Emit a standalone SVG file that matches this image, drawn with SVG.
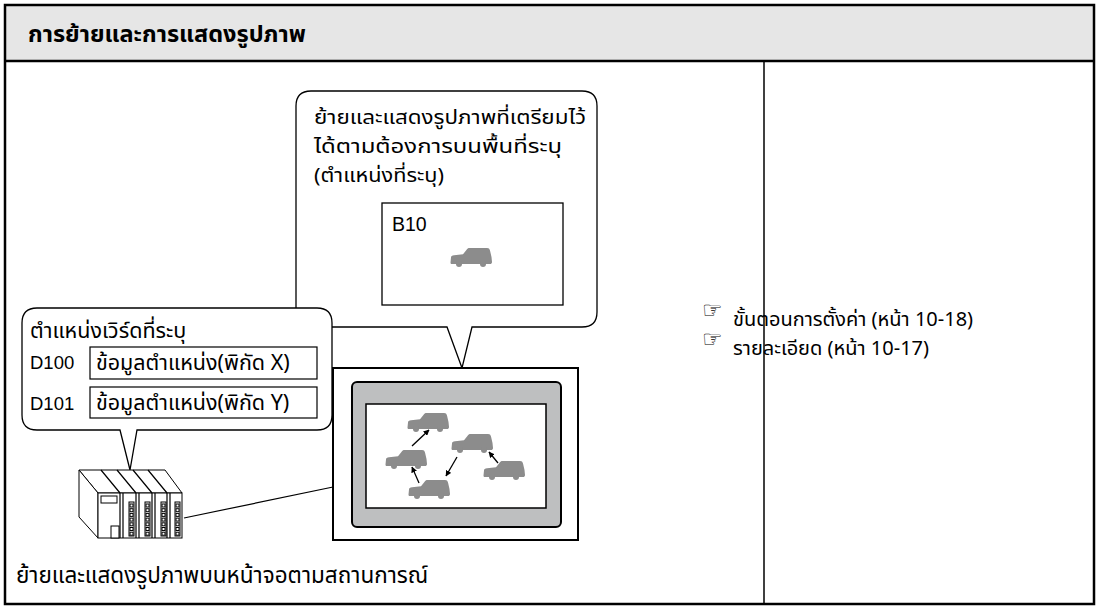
<svg xmlns="http://www.w3.org/2000/svg" width="1098" height="606" viewBox="0 0 1098 606">
  <style>
    .frame { fill: none; stroke: #000; stroke-width: 2.5; }
    .line { fill: none; stroke: #000; stroke-width: 1.2; }
    .bubble { fill: #fff; stroke: #000; stroke-width: 1.3; }
    .thai { font-family: "Noto Sans Thai", "Noto Sans", "Liberation Sans", sans-serif; fill: #000; }
    .latin { font-family: "Liberation Sans", Arial, sans-serif; fill: #000; }
    .hand { font-family: "DejaVu Sans", sans-serif; font-size: 23px; fill: #000; }
    .car { fill: #8c8c8c; }
    .arrow { stroke: #000; stroke-width: 1.3; fill: none; marker-end: url(#head); }
    .plc { fill: #fff; stroke: #000; stroke-width: 1; }
  </style>
  <defs>
    <marker id="head" viewBox="0 0 10 10" refX="9" refY="5" markerWidth="6" markerHeight="6" orient="auto" markerUnits="userSpaceOnUse">
      <path d="M0,0 L10,5 L0,10 Z" fill="#000"/>
    </marker>
    <symbol id="car" viewBox="0 0 42 19">
      <path class="car" d="M1,9.5 C1,8 2,7.4 4,7.2 L13,6.2 L17,1.3 C17.6,0.5 18.4,0 19.6,0 L37,0 C38.8,0 39.6,0.8 40,2.5 L41.5,9 L42,14 C42,15.5 41,16 40,16 L2,16 C1,16 0.5,15.5 0.5,14.5 Z"/>
      <circle class="car" cx="9" cy="16" r="3"/>
      <circle class="car" cx="33" cy="16" r="3"/>
    </symbol>
    <g id="leds">
      <rect class="plc" x="0" y="0" width="5" height="34"/>
      <rect class="plc" x="1" y="2" width="3" height="3"/>
      <rect class="plc" x="1" y="6.7" width="3" height="3"/>
      <rect class="plc" x="1" y="11.4" width="3" height="3"/>
      <rect class="plc" x="1" y="16.1" width="3" height="3"/>
      <rect class="plc" x="1" y="20.8" width="3" height="3"/>
      <rect class="plc" x="1" y="25.5" width="3" height="3"/>
      <rect class="plc" x="1" y="30.2" width="3" height="3"/>
    </g>
  </defs>

  <rect width="1098" height="606" fill="#fff"/>

  <!-- table: header band, outer frame, column divider -->
  <g id="table">
    <rect x="5" y="5" width="1089" height="56" fill="#e6e6e6"/>
    <rect class="frame" x="5" y="5" width="1089" height="599"/>
    <line class="frame" x1="5" y1="61" x2="1094" y2="61"/>
    <line x1="764" y1="61" x2="764" y2="604" stroke="#000" stroke-width="1.5"/>
    <text class="thai" x="28" y="42" font-size="23.5" font-weight="bold">การย้ายและการแสดงรูปภาพ</text>
  </g>

  <!-- connectors: cable from PLC to display -->
  <g id="connectors">
    <line class="line" x1="184" y1="518" x2="333" y2="487"/>
  </g>

  <!-- callout: moving parts drawn on the screen -->
  <g id="callout-parts">
    <path class="bubble" d="M311,91 L582,91 Q597,91 597,106 L597,312 Q597,327 582,327 L472,327 L462,368 L447,327 L311,327 Q296,327 296,312 L296,106 Q296,91 311,91 Z"/>
    <text class="thai" x="314" y="124" font-size="19.5" textLength="272" lengthAdjust="spacingAndGlyphs">ย้ายและแสดงรูปภาพที่เตรียมไว้</text>
    <text class="thai" x="314" y="153" font-size="19.5" textLength="248" lengthAdjust="spacingAndGlyphs">ได้ตามต้องการบนพื้นที่ระบุ</text>
    <text class="thai" x="314" y="182" font-size="19.5" textLength="130" lengthAdjust="spacingAndGlyphs">(ตำแหน่งที่ระบุ)</text>
    <rect x="382" y="203" width="181" height="102" fill="#fff" stroke="#000" stroke-width="1.3"/>
    <text class="latin" x="392" y="231" font-size="19.5">B10</text>
    <use href="#car" x="450" y="248" width="42" height="19"/>
  </g>

  <!-- display unit with moving parts -->
  <g id="display">
    <rect x="333" y="368" width="245" height="172" fill="#fff" stroke="#000" stroke-width="2"/>
    <rect x="352" y="382" width="209" height="145" rx="5" fill="#bebfc0" stroke="#000" stroke-width="2"/>
    <rect x="366" y="404" width="180" height="104" fill="#fff" stroke="#000" stroke-width="1.5"/>
    <use href="#car" x="407" y="413" width="42" height="19"/>
    <use href="#car" x="385" y="450" width="42" height="19"/>
    <use href="#car" x="451" y="434" width="42" height="19"/>
    <use href="#car" x="483" y="461" width="42" height="19"/>
    <use href="#car" x="408" y="480" width="42" height="19"/>
    <line class="arrow" x1="412" y1="446" x2="429" y2="430"/>
    <line class="arrow" x1="457" y1="457" x2="446" y2="476"/>
    <line class="arrow" x1="419" y1="483" x2="412" y2="467"/>
    <line class="arrow" x1="498" y1="463" x2="489" y2="452"/>
  </g>

  <!-- callout: word addresses -->
  <g id="callout-words">
    <path class="bubble" d="M37,308 L317,308 Q332,308 332,323 L332,415 Q332,430 317,430 L137,430 L130,470 L120,430 L37,430 Q22,430 22,415 L22,323 Q22,308 37,308 Z"/>
    <text class="thai" x="30" y="338" font-size="21.5">ตำแหน่งเวิร์ดที่ระบุ</text>
    <text class="latin" x="30" y="369" font-size="18.5">D100</text>
    <text class="latin" x="30" y="410" font-size="18.5">D101</text>
    <rect x="90" y="347" width="227" height="32" fill="#fff" stroke="#000" stroke-width="1.2"/>
    <rect x="90" y="387" width="227" height="31" fill="#fff" stroke="#000" stroke-width="1.2"/>
    <text class="thai" x="96" y="370" font-size="21.5">ข้อมูลตำแหน่ง(พิกัด X)</text>
    <text class="thai" x="96" y="410" font-size="21.5">ข้อมูลตำแหน่ง(พิกัด Y)</text>
  </g>

  <!-- PLC rack -->
  <g id="plc">
    <path class="plc" d="M79,470 L165,470 L182,493 L98,493 Z"/>
    <path class="plc" d="M79,470 L98,493 L98,538 L79,517 Z"/>
    <rect class="plc" x="98" y="493" width="84" height="45"/>
    <path class="line" d="M101,470 L120,493 M117,470 L136,493 M133,470 L152,493 M148,470 L167,493" stroke-width="1"/>
    <path class="line" d="M120,493 V538 M123,493 V538 M136,493 V538 M139,493 V538 M152,493 V538 M155,493 V538 M167,493 V538 M170,493 V538" stroke-width="1"/>
    <rect class="plc" x="101" y="496" width="16" height="7"/>
    <rect class="plc" x="111" y="526" width="8" height="12"/>
    <use href="#leds" x="129" y="502"/>
    <use href="#leds" x="145" y="502"/>
    <use href="#leds" x="161" y="502"/>
    <use href="#leds" x="175" y="502"/>
  </g>

  <text class="thai" x="16" y="583" font-size="22.5">ย้ายและแสดงรูปภาพบนหน้าจอตามสถานการณ์</text>

  <!-- references column -->
  <g id="references">
    <text class="hand" x="702" y="318">☞</text>
    <text class="thai" x="733" y="326" font-size="20">ขั้นตอนการตั้งค่า (หน้า 10-18)</text>
    <text class="hand" x="702" y="347">☞</text>
    <text class="thai" x="733" y="355" font-size="20">รายละเอียด (หน้า 10-17)</text>
  </g>
</svg>
